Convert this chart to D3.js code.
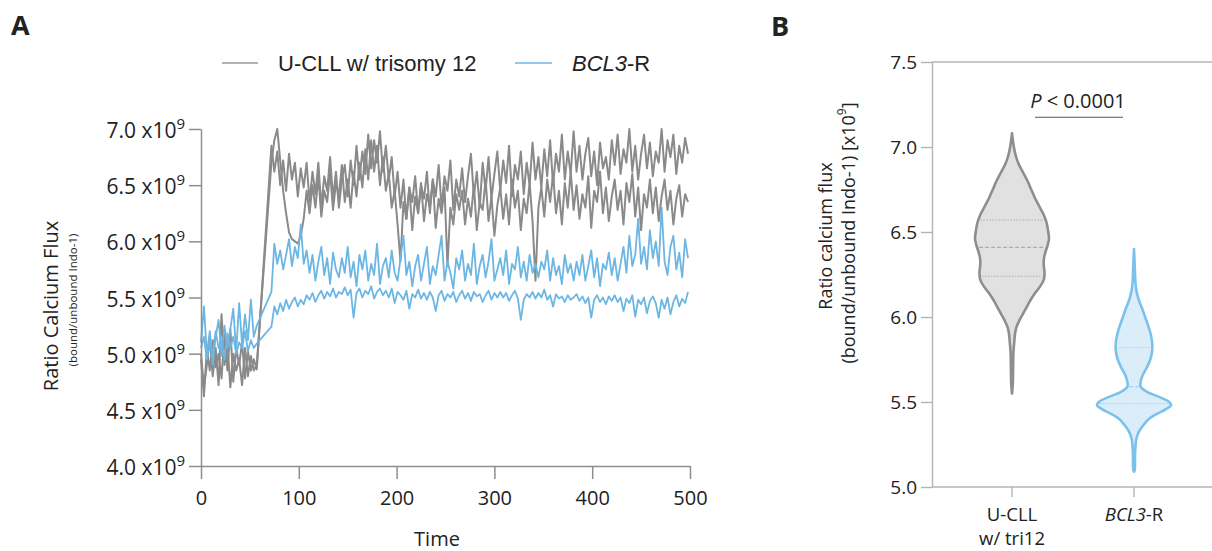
<!DOCTYPE html>
<html><head><meta charset="utf-8">
<script src="https://cdn.jsdelivr.net/npm/d3@7"></script>
<style>
body{margin:0;background:#fff}
svg{display:block}
text{font-family:'Open Sans',sans-serif;fill:#222}
</style>
</head><body>
<svg id="c" width="1212" height="551"></svg>
<script>
// ---------- DATA ----------
const seriesNames = ["U-CLL w/ trisomy 12", "BCL3-R"];
const baseTimes = d3.range(0, 58, 3);      // pre-stimulation samples
const postTimes = d3.range(72, 500, 3);    // post-stimulation samples
const times = baseTimes.concat(postTimes);

// Ratio calcium flux (x10^9), U-CLL w/ trisomy 12 (two samples)
const tri1 = [4.95,4.62,5.05,4.85,5.12,4.88,5.00,4.78,5.18,4.85,5.22,4.75,5.05,4.90,5.10,4.78,5.02,4.85,4.95,4.86,
  6.85,6.62,6.80,6.50,6.72,6.45,6.78,6.55,6.70,6.40,6.65,6.48,6.70,
  6.35,6.62,6.42,6.70,6.30,6.58,6.45,6.75,6.38,6.62,6.30,6.55,6.68,
  6.40,6.72,6.50,6.85,6.55,6.80,6.60,6.95,6.65,6.90,6.70,6.98,6.62,
  6.85,6.55,6.75,6.40,6.62,6.30,6.55,6.20,6.48,6.35,6.58,6.25,6.50,
  6.38,6.62,6.25,6.55,6.40,6.68,6.30,6.58,6.45,6.72,6.28,6.55,6.40,
  6.65,6.35,6.58,6.78,6.40,6.62,6.30,6.70,6.45,6.75,6.38,6.60,6.80,
  6.45,6.72,6.52,6.85,6.40,6.68,6.55,6.80,6.42,6.70,6.50,6.88,6.55,
  6.75,6.48,6.82,6.58,6.90,6.50,6.78,6.62,6.95,6.55,6.80,6.60,6.98,
  6.62,6.85,6.55,6.78,6.92,6.58,6.80,6.50,6.88,6.65,6.75,6.55,6.90,
  6.68,6.95,6.60,6.82,6.70,7.00,6.62,6.85,6.55,6.78,6.95,6.65,6.88,
  6.58,6.80,6.70,7.00,6.62,6.90,6.75,6.95,6.60,6.85,6.70,6.92,6.78];
const tri2 = [5.00,4.70,4.90,5.15,4.80,5.05,4.72,5.35,4.90,5.10,4.70,5.00,4.85,4.95,4.72,5.05,4.80,4.98,4.85,4.90,
  6.70,6.90,7.00,6.72,6.45,6.25,6.08,6.02,6.00,5.98,6.05,6.20,6.45,
  6.25,6.50,6.30,6.58,6.22,6.45,6.35,6.62,6.28,6.52,6.40,6.68,6.35,
  6.55,6.30,6.62,6.40,6.70,6.48,6.82,6.55,6.90,6.62,6.85,6.50,6.75,
  6.45,6.60,6.30,6.45,6.15,5.82,6.35,6.20,6.48,6.10,6.40,6.25,6.52,
  6.18,6.42,6.30,6.55,6.12,6.38,6.25,6.48,5.78,6.30,6.15,6.42,6.28,
  6.45,6.15,6.38,6.22,6.50,6.10,6.35,6.28,6.55,6.18,6.40,6.05,6.32,
  6.48,6.20,6.42,6.15,6.55,6.30,6.45,6.10,6.38,6.25,6.52,6.18,5.65,
  6.30,6.48,6.22,6.55,6.35,6.60,6.25,6.45,6.15,6.52,6.30,6.62,6.28,
  6.50,6.20,6.42,6.30,6.58,6.12,6.45,6.35,6.62,6.25,6.48,6.18,6.40,
  6.55,6.28,6.45,6.15,6.52,6.35,6.60,6.22,6.48,6.10,6.42,6.30,6.55,
  6.25,6.48,6.18,6.40,6.55,6.28,6.45,6.15,6.38,6.50,6.22,6.42,6.35];
// BCL3-R (two samples)
const bcl1 = [5.10,5.42,5.00,5.20,4.90,5.15,5.30,4.98,5.25,5.05,5.22,5.40,5.02,5.45,5.08,5.35,5.12,5.48,5.15,5.25,
  5.55,5.98,5.80,5.92,5.75,5.88,6.02,5.78,5.95,5.85,6.15,5.80,5.92,
  5.72,5.88,5.65,5.82,5.95,5.70,5.85,5.62,5.90,5.75,5.68,5.85,5.72,
  5.95,5.68,5.82,5.60,5.88,5.75,5.92,5.65,5.80,5.70,5.98,5.62,5.78,
  5.85,5.68,5.92,5.72,5.65,5.85,6.05,5.70,5.82,5.60,5.78,5.88,5.65,
  5.80,5.95,5.62,5.78,5.70,5.88,6.05,5.65,5.82,5.72,5.58,5.85,5.75,
  5.92,5.65,5.80,5.70,5.98,5.62,5.78,5.88,5.68,5.82,6.02,5.65,5.75,
  5.85,5.70,5.92,5.62,5.80,5.75,5.95,5.68,5.82,5.65,5.88,5.72,5.80,
  5.68,5.82,5.75,5.92,5.65,5.85,5.70,5.78,5.62,5.88,5.72,5.80,5.65,
  5.82,5.70,5.88,5.65,5.78,5.92,5.68,5.85,5.60,5.80,5.75,5.90,5.70,
  5.85,5.65,5.80,5.95,5.72,6.05,5.78,5.88,6.20,5.80,5.95,5.75,6.10,
  5.85,6.00,5.78,6.30,5.82,5.70,5.95,6.05,5.75,5.90,5.68,6.02,5.85];
const bcl2 = [5.05,5.15,4.95,5.10,5.00,5.20,5.05,5.12,4.95,5.18,5.05,5.15,5.00,5.10,5.05,5.20,5.02,5.12,5.05,5.09,
  5.24,5.42,5.35,5.45,5.38,5.48,5.40,5.46,5.50,5.42,5.48,5.44,5.52,
  5.48,5.54,5.46,5.52,5.56,5.49,5.55,5.51,5.58,5.50,5.55,5.53,5.59,
  5.52,5.57,5.32,5.54,5.58,5.50,5.56,5.53,5.60,5.49,5.55,5.58,5.52,
  5.56,5.50,5.58,5.45,5.55,5.52,5.48,5.56,5.40,5.53,5.50,5.57,5.49,
  5.54,5.48,5.55,5.50,5.38,5.52,5.56,5.47,5.53,5.50,5.55,5.46,5.52,
  5.56,5.49,5.54,5.47,5.55,5.51,5.53,5.46,5.52,5.56,5.48,5.54,5.50,
  5.55,5.50,5.54,5.47,5.52,5.56,5.49,5.30,5.48,5.53,5.50,5.55,5.49,
  5.54,5.50,5.57,5.48,5.52,5.42,5.53,5.49,5.51,5.46,5.52,5.48,5.50,
  5.53,5.47,5.51,5.45,5.50,5.32,5.48,5.52,5.46,5.50,5.44,5.51,5.47,
  5.52,5.46,5.50,5.38,5.49,5.45,5.52,5.33,5.48,5.44,5.50,5.36,5.47,
  5.51,5.45,5.32,5.48,5.40,5.50,5.35,5.46,5.52,5.42,5.49,5.45,5.55];

const yTicksA = [4.0,4.5,5.0,5.5,6.0,6.5,7.0];
const xTicksA = [0,100,200,300,400,500];

// Panel B: violin density profiles (value x10^9, relative density)
const categories = ["U-CLL", "BCL3-R"];
const triLevels  = [7.08,7.00,6.95,6.90,6.85,6.80,6.75,6.70,6.65,6.60,6.55,6.50,6.46,6.42,6.38,6.34,6.30,6.26,6.22,6.18,6.14,6.10,6.06,6.02,5.98,5.94,5.90,5.85,5.80,5.70,5.60,5.55];
const triDensity = [0.00,0.05,0.10,0.18,0.30,0.42,0.52,0.62,0.74,0.86,0.94,0.98,1.00,0.96,0.90,0.86,0.86,0.88,0.86,0.76,0.62,0.50,0.40,0.30,0.20,0.12,0.08,0.06,0.04,0.03,0.02,0.00];
const bclLevels  = [6.40,6.30,6.20,6.15,6.10,6.05,6.00,5.95,5.90,5.85,5.80,5.75,5.70,5.66,5.62,5.59,5.56,5.53,5.50,5.48,5.46,5.43,5.40,5.36,5.32,5.28,5.20,5.10,5.09];
const bclDensity = [0.00,0.02,0.04,0.07,0.13,0.22,0.30,0.38,0.45,0.49,0.49,0.44,0.34,0.24,0.18,0.18,0.35,0.68,0.95,1.00,0.88,0.62,0.40,0.24,0.12,0.06,0.03,0.02,0.00];
const triQuartiles = [6.24,6.41,6.57];
const bclQuartiles = [5.49,5.59,5.82];
const yTicksB = [5.0,5.5,6.0,6.5,7.0,7.5];
const pLabel = "0.0001";

// ---------- DRAW ----------
const svg = d3.select("#c");
const grayC = "#8a8a8a", blueC = "#6cb6e4";

// Panel letters
svg.append("text").attr("x",11).attr("y",35).attr("font-size",27).attr("font-weight",700).text("A");
svg.append("text").attr("x",771).attr("y",36).attr("font-size",27).attr("font-weight",700).text("B");

// Legend
const legFont = "'Liberation Sans',Arial,sans-serif";
svg.append("line").attr("x1",222).attr("x2",258).attr("y1",63).attr("y2",63).attr("stroke","#9a9a9a").attr("stroke-width",1.6);
svg.append("text").attr("x",278).attr("y",71).attr("font-size",22).style("font-family",legFont).text(seriesNames[0]);
svg.append("line").attr("x1",515).attr("x2",552).attr("y1",63).attr("y2",63).attr("stroke",blueC).attr("stroke-width",1.6);
const lt = svg.append("text").attr("x",572).attr("y",71).attr("font-size",22).style("font-family",legFont);
lt.append("tspan").attr("font-style","italic").text("BCL3");
lt.append("tspan").text("-R");

// Panel A
const xA = d3.scaleLinear().domain([0,500]).range([201,690]);
const yA = d3.scaleLinear().domain([4.0,7.0]).range([466,129]);
const axisA = "#8e8e8e";

const line = d3.line().x(d=>xA(d[0])).y(d=>yA(d[1]));
const gL = svg.append("g").attr("fill","none").attr("stroke-linejoin","round");
[[tri2,grayC,2],[tri1,grayC,2],[bcl1,blueC,1.8],[bcl2,blueC,1.8]].forEach(([s,c,w])=>{
  gL.append("path").datum(d3.zip(times, s)).attr("d",line).attr("stroke",c).attr("stroke-width",w);
});

const gyA = svg.append("g").attr("transform",`translate(${xA(0)},0)`)
  .call(d3.axisLeft(yA).tickValues(yTicksA).tickSize(12).tickSizeOuter(0).tickFormat(""));
const gxA = svg.append("g").attr("transform",`translate(0,${yA(4.0)})`)
  .call(d3.axisBottom(xA).tickValues(xTicksA).tickSize(13).tickSizeOuter(0).tickPadding(12).tickFormat(d3.format("d")));
[gyA,gxA].forEach(g=>{g.selectAll("path,line").attr("stroke",axisA).attr("stroke-width",1.5);});
gxA.selectAll("text").attr("font-size",20).attr("fill","#222").style("font-family","'Open Sans',sans-serif");

yTicksA.forEach(v=>{
  const t = svg.append("text").attr("x",xA(0)-16).attr("y",yA(v)+9).attr("text-anchor","end").attr("font-size",21);
  t.append("tspan").text(v.toFixed(1)+" x10");
  t.append("tspan").attr("font-size",15).attr("dy",-9).text("9");
});

svg.append("text").attr("transform","translate(50,306) rotate(-90)").attr("text-anchor","middle")
  .attr("dominant-baseline","central").attr("font-size",20).text("Ratio Calcium Flux");
svg.append("text").attr("transform","translate(72,300) rotate(-90)").attr("text-anchor","middle")
  .attr("dominant-baseline","central").attr("font-size",11.5).text("(bound/unbound Indo-1)");
svg.append("text").attr("x",437).attr("y",546).attr("text-anchor","middle").attr("font-size",20).text("Time");

// Panel B
const yB = d3.scaleLinear().domain([5.0,7.5]).range([487,62]);
const xB = d3.scalePoint().domain(categories).range([1012,1134]);
const axB = 932, axisBcol = "#b4b4b4";
const gyB = svg.append("g").attr("transform",`translate(${axB},0)`)
  .call(d3.axisLeft(yB).tickValues(yTicksB).tickSize(11).tickSizeOuter(0).tickPadding(4).tickFormat(d3.format(".1f")));
gyB.selectAll("path,line").attr("stroke",axisBcol).attr("stroke-width",1.4);
gyB.selectAll("text").attr("font-size",19).attr("fill","#222").style("font-family","'Open Sans',sans-serif");
[7.5,5.0].forEach(v=>svg.append("line").attr("x1",axB).attr("x2",1212).attr("y1",yB(v)).attr("y2",yB(v))
  .attr("stroke",axisBcol).attr("stroke-width",1.4));
categories.forEach(c=>svg.append("line").attr("x1",xB(c)).attr("x2",xB(c)).attr("y1",yB(5.0)).attr("y2",yB(5.0)+10)
  .attr("stroke",axisBcol).attr("stroke-width",1.4));

svg.append("text").attr("x",xB(categories[0])).attr("y",yB(5.0)+34).attr("text-anchor","middle").attr("font-size",18.5).text(categories[0]);
svg.append("text").attr("x",xB(categories[0])).attr("y",yB(5.0)+58).attr("text-anchor","middle").attr("font-size",18.5).text("w/ tri12");
const cl2 = svg.append("text").attr("x",xB(categories[1])).attr("y",yB(5.0)+34).attr("text-anchor","middle").attr("font-size",18.5);
cl2.append("tspan").attr("font-style","italic").text("BCL3");
cl2.append("tspan").text("-R");

const w = d3.scaleLinear().domain([0,1]).range([0,37]);
function violin(levels, dens, q, cat, fill, stroke){
  const cx = xB(cat);
  const pts = levels.map((v,i)=>({v, d:dens[i]}));
  const area = d3.area().y(d=>yB(d.v)).x0(d=>cx-w(d.d)).x1(d=>cx+w(d.d)).curve(d3.curveCatmullRom);
  svg.append("path").datum(pts).attr("d",area).attr("fill",fill).attr("stroke",stroke).attr("stroke-width",2.6).attr("stroke-linejoin","round");
  const dAt = d3.scaleLinear().domain(levels).range(dens);
  q.forEach((v,i)=>{
    const hw = w(dAt(v))-2;
    svg.append("line").attr("x1",cx-hw).attr("x2",cx+hw).attr("y1",yB(v)).attr("y2",yB(v))
      .attr("stroke",stroke).attr("stroke-width",1).attr("stroke-opacity",i===1?0.8:0.6)
      .attr("stroke-dasharray",i===1?"4,2":"1.5,1.5");
  });
}
violin(triLevels, triDensity, triQuartiles, categories[0], "#e1e1e1", "#8e8e8e");
violin(bclLevels, bclDensity, bclQuartiles, categories[1], "#daedf9", "#7cc1ea");

// p-value
const pt = svg.append("text").attr("x",1078).attr("y",yB(7.23)).attr("text-anchor","middle").attr("font-size",20);
pt.append("tspan").attr("font-style","italic").text("P");
pt.append("tspan").text(" < "+pLabel);
svg.append("line").attr("x1",xB(categories[0])+23).attr("x2",xB(categories[1])-11).attr("y1",yB(7.175)).attr("y2",yB(7.175))
  .attr("stroke","#555").attr("stroke-width",1);

// Panel B axis title
svg.append("text").attr("transform","translate(825,236) rotate(-90)").attr("text-anchor","middle")
  .attr("dominant-baseline","central").attr("font-size",18).text("Ratio calcium flux");
const t2 = svg.append("text").attr("transform","translate(848,233) rotate(-90)").attr("text-anchor","middle")
  .attr("dominant-baseline","central").attr("font-size",18);
t2.append("tspan").text("(bound/unbound Indo-1) [x10");
t2.append("tspan").attr("font-size",12).attr("dy",-7).text("9");
t2.append("tspan").attr("dy",7).text("]");
</script>
</body></html>
